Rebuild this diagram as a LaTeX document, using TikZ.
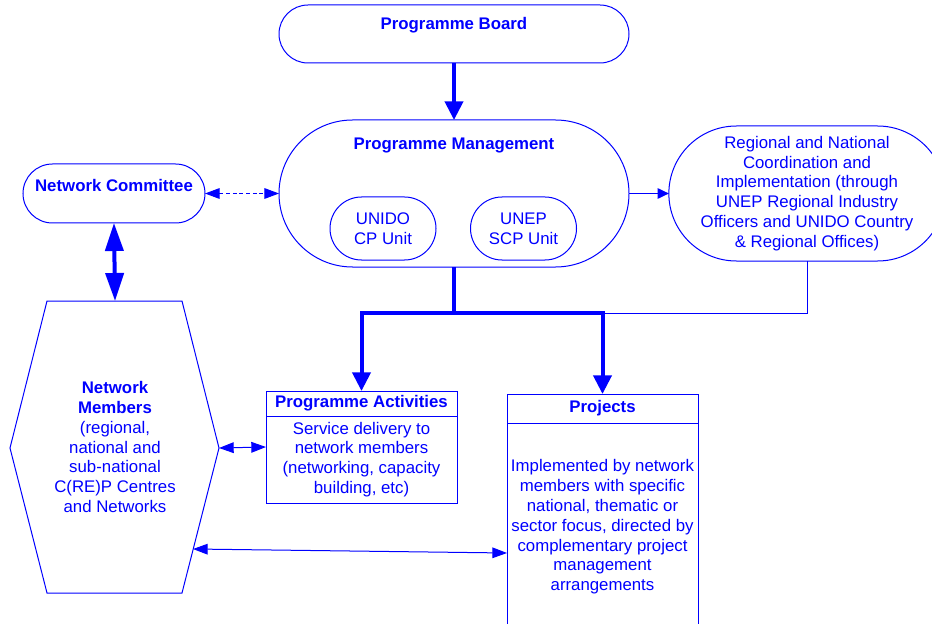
\documentclass[tikz,border=0pt]{standalone}
\usepackage{fontspec}
\setmainfont{Liberation Sans}
\usetikzlibrary{shapes,arrows.meta,positioning,calc}

\definecolor{chartblue}{RGB}{0,0,255}

\tikzset{
  pill/.style={rounded rectangle, draw=chartblue, line width=0.75pt, inner sep=0pt, outer sep=0pt},
  box/.style={rectangle, draw=chartblue, line width=0.75pt, inner sep=0pt, outer sep=0pt, minimum width=143.25pt},
  txt/.style={text=chartblue, align=center, inner sep=0pt, font=\fontsize{12.6}{14.85}\selectfont},
  bold/.style={txt, font=\fontsize{12.6}{14.85}\selectfont\bfseries},
  thinline/.style={draw=chartblue, line width=0.75pt},
  thickline/.style={draw=chartblue, line width=3pt},
  thickarr/.style={thickline, -{Triangle[length=14pt,width=13.5pt]}},
  bigboth/.style={thickline, {Triangle[length=21pt,width=13.5pt]}-{Triangle[length=21pt,width=13.5pt]}},
  thinarr/.style={thinline, -{Triangle[length=8.5pt,width=8pt]}},
  thinboth/.style={thinline, {Triangle[length=11pt,width=8pt]}-{Triangle[length=11pt,width=8pt]}}
}

\begin{document}
\begin{tikzpicture}[x=0.75pt,y=-0.75pt]
\clip (0,0) rectangle (932,624);

% Board and management
\node[pill, minimum width=262.5pt, minimum height=43.5pt] (board) at (454,34) {};
\node[bold] (boardtxt) at (454,25) {Programme Board};
\node[pill, minimum width=262.5pt, minimum height=110.25pt] (pm) at (454,193.5) {};
\node[bold] (pmtxt) at (454,146) {Programme Management};
\node[pill, minimum width=79.5pt, minimum height=47.25pt, txt] (unido) at (383,228.5) {UNIDO\\CP Unit};
\node[pill, minimum width=79.5pt, minimum height=47.25pt, txt] (unep) at (523.5,228.5) {UNEP\\SCP Unit};

% Committee and regional offices
\node[pill, minimum width=136.5pt, minimum height=44.25pt] (nc) at (114,193.5) {};
\node[bold] (nctxt) at (114,185) {Network Committee};
\node[pill, minimum width=204pt, minimum height=101.25pt, txt] (reg) at (807,193.5)
  {Regional and National\\Coordination and\\Implementation (through\\UNEP Regional Industry\\Officers and UNIDO Country\\\& Regional Offices)};

% Network members
\draw[thinline] (47,301) -- (182,301) -- (219,448) -- (182,593) -- (47,593) -- (10,448) -- cycle;
\coordinate (hextop) at (115,301);
\coordinate (hexright) at (219,448);
\coordinate (hexlow) at (193,549);
\node[txt] (members) at (115,447)
  {\textbf{Network}\\\textbf{Members}\\(regional,\\national and\\sub-national\\C(RE)P Centres\\and Networks};

% Activities and projects
\node[box, minimum height=18.75pt, bold] (pahead) at (361.5,403.5) {Programme Activities};
\node[box, minimum height=65.25pt, txt, below=0pt of pahead] (pabody)
  {Service delivery to\\network members\\(networking, capacity\\building, etc)};
\coordinate (pamid) at ($(pahead.north west)!0.5!(pabody.south west)$);
\node[box, minimum height=21.75pt, bold] (projhead) at (602.5,408.5) {Projects};
\node[box, minimum height=195pt, below=0pt of projhead] (projbody) {};
\node[txt] (projtxt) at (602.5,527)
  {Implemented by network\\members with specific\\national, thematic or\\sector focus, directed by\\complementary project\\management\\arrangements};

% Arrows
\coordinate (split) at (454,313);
\draw[thickarr] (board.south) -- (pm.north);
\draw[thinline, dash pattern=on 3pt off 2pt, {Triangle[length=11pt,width=8pt]}-{Triangle[length=11pt,width=8pt]}] (nc.east) -- (pm.west);
\draw[thinarr] (pm.east) -- (reg.west);
\draw[bigboth] (nc.south) -- (hextop);
\draw[thickline] (pm.south) -- (split);
\draw[thickarr, line join=miter] (split) -| (pahead.north);
\draw[thickarr, line join=miter] (split) -| (projhead.north);
\draw[thinline] (reg.south) |- (projhead.north |- split);
\draw[thinboth] (hexright) -- (pamid);
\draw[thinboth] (hexlow) -- (projbody.west);
\end{tikzpicture}
\end{document}
